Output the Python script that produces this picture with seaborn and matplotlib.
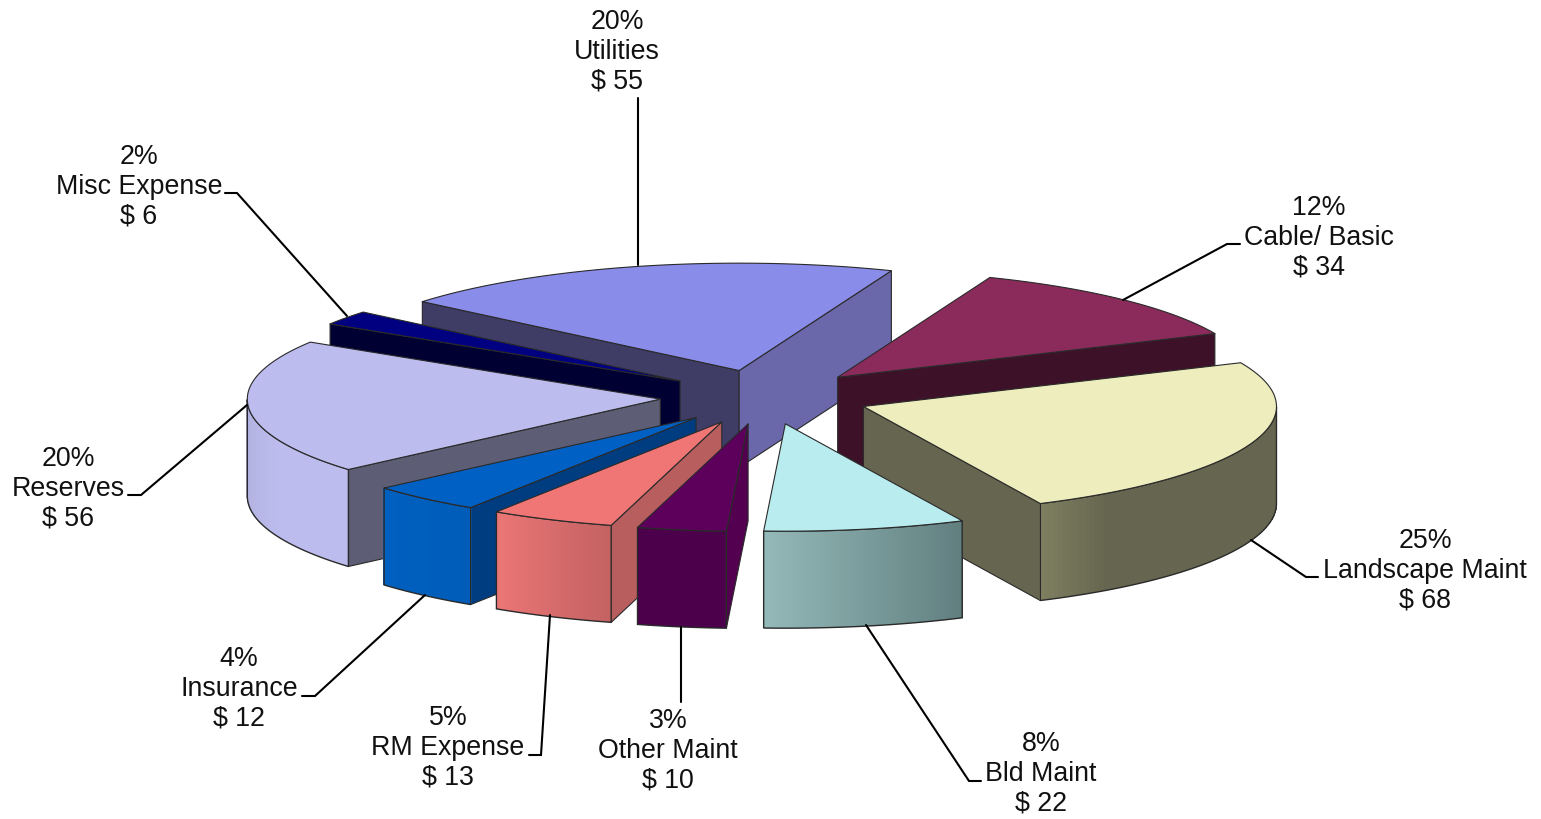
import numpy as np
import matplotlib
matplotlib.use("Agg")
import matplotlib.pyplot as plt
from matplotlib.patches import Polygon
import seaborn as sns

# ── Data ──────────────────────────────────────────────────────────────────────
LABELS  = ["Utilities", "Cable/ Basic", "Landscape Maint", "Bld Maint", "Other Maint",
           "RM Expense", "Insurance", "Reserves", "Misc Expense"]
# amounts before the chart's rounding; labels show them rounded
VALUES  = [55, 34, 68, 21.75, 9.6, 13.45, 12.25, 56, 6]
PERCENT = [20, 12, 25, 8, 3, 5, 4, 20, 2]

# ── Palette ───────────────────────────────────────────────────────────────────
TOP_COL   = ["#8a8cea", "#8b2b5c", "#eeedbd", "#b9ecee", "#5c005c",
             "#f07676", "#0060c4", "#bcbcee", "#000080"]
START_COL = ["#3f3c66", "#3d1228", "#666650", "#627f80", "#52004f",
             "#b85e5e", "#003d80", "#5d5d75", "#000033"]   # face on the clockwise-first edge
END_COL   = ["#6a67aa", "#3d1228", "#666650", "#627f80", "#52004f",
             "#b85e5e", "#003d80", "#5d5d75", "#000033"]   # face on the clockwise-last edge
ARC_LEFT  = ["#6a67aa", "#3d1228", "#7e7e60", "#93b9b8", "#4c004c",
             "#ec7676", "#0060c0", "#b0b0dc", "#000033"]
ARC_RIGHT = ["#6a67aa", "#3d1228", "#666650", "#627f80", "#4c004c",
             "#c46262", "#005cb8", "#bcbcee", "#000033"]
# share of the rim over which the gradient runs, flat colour after that
ARC_FADE  = [1, 1, 0.18, 1, 1, 1, 1, 0.6, 1]

# ── Pie geometry (pixels) ─────────────────────────────────────────────────────
CX, CY   = 765, 397
RADIUS   = 413
TILT     = 0.26
DEPTH    = 97
EXPLODE  = 105
START    = 140.1
EDGE     = "#2a2a2a"

# label anchor (centre of the middle line) and leader line for each slice
LABEL_POS = [(617, 52), (1319, 238), (1425, 571), (1041, 774), (668, 751),
             (448, 748), (239, 689), (68, 489), (139, 187)]
LEADERS = [
    [(638, 98), (638, 265)],
    [(1240, 244), (1227, 244), (1123, 300)],
    [(1318, 577), (1306, 577), (1251, 540)],
    [(981, 781), (969, 781), (866, 625)],
    [(681, 702), (681, 627)],
    [(529, 755), (541, 755), (550, 615)],
    [(302, 696), (315, 696), (425, 595)],
    [(128, 495), (141, 495), (247, 405)],
    [(225, 193), (237, 193), (347, 316)],
]

sns.set_theme(style="white")
plt.rcParams["font.family"] = ["Liberation Sans", "DejaVu Sans"]

fig, ax = plt.subplots(figsize=(15.41, 8.19), dpi=100)
ax.set_position([0, 0, 1, 1])
ax.set_xlim(0, 1541)
ax.set_ylim(819, 0)
ax.axis("off")


def project(theta, r, mid):
    """Top-face pixel position of polar point (theta, r) for a slice exploded along mid."""
    x = CX + EXPLODE * np.cos(mid) + r * np.cos(theta)
    y = CY - TILT * (EXPLODE * np.sin(mid) + r * np.sin(theta))
    return np.column_stack([np.atleast_1d(x), np.atleast_1d(y)])


def radial_face(a, mid, color):
    apex = project(a, 0, mid)[0]
    rim = project(a, RADIUS, mid)[0]
    pts = [apex, rim, rim + [0, DEPTH], apex + [0, DEPTH]]
    ax.add_patch(Polygon(pts, fc=color, ec=EDGE, lw=0.8, joinstyle="round"))


sweeps = 360 * np.array(VALUES) / np.sum(VALUES)
ends = START - np.cumsum(sweeps)
starts = ends + sweeps
mids = (starts + ends) / 2
order = np.argsort(-np.sin(np.radians(mids)))

for i in order:
    a1, a2, mid = np.radians([starts[i], ends[i], mids[i]])

    # radial walls, only those turned to the viewer
    if np.sin(a1 + np.pi / 2) < 0:
        radial_face(a1, mid, START_COL[i])
    if np.sin(a2 - np.pi / 2) < 0:
        radial_face(a2, mid, END_COL[i])

    # outer wall, only the front half of the rim
    th = np.linspace(a1, a2, 121)
    th = th[np.sin(th) <= 0]
    if len(th) > 1:
        rim = project(th, RADIUS, mid)
        if rim[0, 0] > rim[-1, 0]:
            rim = rim[::-1]
        n = len(rim) - 1
        n_fade = max(2, int(n * ARC_FADE[i]))
        shades = sns.blend_palette([ARC_LEFT[i], ARC_RIGHT[i]], n_fade)
        shades = list(shades) + [shades[-1]] * (n - n_fade)
        # smooth base first, then the gradient strips kept just inside it
        outline = np.vstack([rim, rim[::-1] + [0, DEPTH]])
        ax.add_patch(Polygon(outline, fc=ARC_RIGHT[i], ec="none"))
        for j, c in enumerate(shades):
            quad = [rim[j] + [0, 1], rim[j + 1] + [0, 1],
                    rim[j + 1] + [0, DEPTH - 1], rim[j] + [0, DEPTH - 1]]
            ax.add_patch(Polygon(quad, fc=c, ec=c, lw=0.6, antialiased=False))
        ax.add_patch(Polygon(outline, fc="none", ec=EDGE, lw=1.0))

    # top face
    th = np.linspace(a1, a2, 121)
    top = np.vstack([project(a1, 0, mid), project(th, RADIUS, mid)])
    ax.add_patch(Polygon(top, fc=TOP_COL[i], ec=EDGE, lw=0.8, joinstyle="round"))

# ── Labels and leader lines ───────────────────────────────────────────────────
for lab, val, pct, (tx, ty), leader in zip(LABELS, VALUES, PERCENT, LABEL_POS, LEADERS):
    xs, ys = zip(*leader)
    ax.plot(xs, ys, color="black", lw=1.5, solid_joinstyle="miter", zorder=1)
    ax.text(tx, ty, f"{pct}%\n{lab}\n$ {val:.0f}", ha="center", va="center", ma="center",
            fontsize=19.3, color="#111111", linespacing=1.19)

sns.despine(ax=ax, left=True, bottom=True)
fig.savefig("out.png", dpi=100)
plt.close(fig)
